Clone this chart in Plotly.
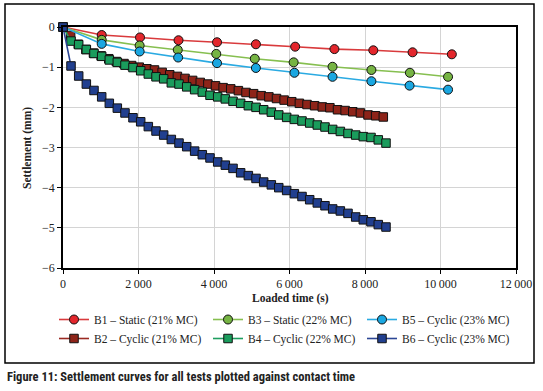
import plotly.graph_objects as go

# ---------------- data ----------------
t_b1 = [0, 1025, 2040, 3060, 4080, 5110, 6150, 7190, 8220, 9260, 10300]
s_b1 = [0, -0.20, -0.26, -0.33, -0.38, -0.43, -0.49, -0.55, -0.58, -0.63, -0.68]

t_b3 = [0, 1025, 2030, 3040, 4060, 5080, 6110, 7140, 8170, 9190, 10200]
s_b3 = [0, -0.32, -0.46, -0.57, -0.67, -0.79, -0.88, -0.99, -1.07, -1.14, -1.24]

t_b5 = [0, 1025, 2030, 3050, 4080, 5110, 6130, 7140, 8170, 9180, 10200]
s_b5 = [0, -0.42, -0.61, -0.76, -0.90, -1.02, -1.14, -1.24, -1.35, -1.46, -1.56]

t_b2 = [0, 202, 404, 606, 808, 1010, 1212, 1414, 1616, 1818, 2020, 2222, 2424,
        2626, 2828, 3030, 3232, 3434, 3636, 3838, 4040, 4242, 4444, 4646, 4848,
        5050, 5252, 5454, 5656, 5858, 6060, 6262, 6464, 6666, 6868, 7070, 7272,
        7474, 7676, 7878, 8080, 8282, 8485]
s_b2 = [0, -0.21, -0.43, -0.56, -0.65, -0.72, -0.79, -0.86, -0.91, -0.96, -1.00,
        -1.04, -1.07, -1.13, -1.19, -1.23, -1.28, -1.33, -1.38, -1.42, -1.465,
        -1.51, -1.54, -1.585, -1.63, -1.66, -1.71, -1.74, -1.78, -1.82, -1.86,
        -1.90, -1.93, -1.96, -1.99, -2.01, -2.06, -2.08, -2.11, -2.14, -2.19,
        -2.21, -2.24]

t_b4 = [0, 212, 416, 618, 821, 1025, 1227, 1439, 1642, 1854, 2058, 2260, 2464,
        2667, 2870, 3073, 3277, 3488, 3690, 3894, 4098, 4300, 4504, 4706, 4910,
        5113, 5316, 5519, 5716, 5925, 6128, 6331, 6535, 6737, 6940, 7144, 7347,
        7550, 7754, 7955, 8159, 8352, 8556]
s_b4 = [0, -0.35, -0.44, -0.56, -0.66, -0.73, -0.82, -0.88, -0.95, -1.01, -1.09,
        -1.17, -1.24, -1.29, -1.39, -1.42, -1.49, -1.56, -1.62, -1.70, -1.74,
        -1.79, -1.85, -1.90, -1.96, -2.00, -2.06, -2.12, -2.19, -2.25, -2.30,
        -2.34, -2.39, -2.44, -2.49, -2.55, -2.60, -2.65, -2.69, -2.73, -2.75,
        -2.81, -2.89]

t_b6 = [0, 212, 416, 618, 821, 1025, 1227, 1439, 1642, 1854, 2058, 2260, 2464,
        2667, 2870, 3073, 3277, 3488, 3690, 3894, 4098, 4300, 4504, 4706, 4910,
        5113, 5316, 5519, 5716, 5925, 6128, 6331, 6535, 6737, 6940, 7144, 7347,
        7550, 7754, 7955, 8159, 8352, 8556]
s_b6 = [0, -0.97, -1.22, -1.42, -1.58, -1.74, -1.90, -2.02, -2.14, -2.26, -2.36,
        -2.48, -2.59, -2.69, -2.80, -2.89, -2.98, -3.09, -3.18, -3.26, -3.36,
        -3.44, -3.52, -3.63, -3.70, -3.77, -3.86, -3.93, -4.00, -4.07, -4.15,
        -4.22, -4.30, -4.38, -4.45, -4.53, -4.58, -4.64, -4.73, -4.80, -4.85,
        -4.92, -4.98]

x_ticks = [0, 2000, 4000, 6000, 8000, 10000, 12000]
x_ticklabels = ["0", "2\u2009000", "4\u2009000", "6\u2009000", "8\u2009000",
                "10\u2009000", "12\u2009000"]
y_ticks = [0, -1, -2, -3, -4, -5, -6]
y_ticklabels = ["0", "\u22121", "\u22122", "\u22123", "\u22124", "\u22125", "\u22126"]

series = [
    ("B1 \u2013 Static (21% MC)", t_b1, s_b1, "circle", "#e3262c", "#d93a3c", 1),
    ("B2 \u2013 Cyclic (21% MC)", t_b2, s_b2, "square", "#8e2419", "#9a2a22", 4),
    ("B3 \u2013 Static (22% MC)", t_b3, s_b3, "circle", "#76b443", "#86bf50", 2),
    ("B4 \u2013 Cyclic (22% MC)", t_b4, s_b4, "square", "#1a9c5c", "#1e9e60", 5),
    ("B5 \u2013 Cyclic (23% MC)", t_b5, s_b5, "circle", "#1aa7e1", "#2aaae2", 3),
    ("B6 \u2013 Cyclic (23% MC)", t_b6, s_b6, "square", "#213f8f", "#2c4695", 6),
]

SERIF = "Liberation Serif, Times New Roman, serif"

fig = go.Figure()
for name, xs, ys, sym, fill, line, rank in series:
    fig.add_trace(go.Scatter(
        x=xs, y=ys, name=name, mode="lines+markers",
        line=dict(color=line, width=1.6),
        marker=dict(symbol=sym, size=9 if sym == "circle" else 8.5,
                    color=fill, line=dict(color="#111111", width=1)),
        cliponaxis=False, legendrank=rank,
    ))

L, R, T, B = 63, 27, 27, 123
W, H = 543, 391
pw, ph = W - L - R, H - T - B

def px(xp):
    return (xp - L) / pw

def py(yp):
    return (H - B - yp) / ph

fig.update_layout(
    width=W, height=H,
    margin=dict(l=L, r=R, t=T, b=B, pad=0, autoexpand=False),
    paper_bgcolor="white", plot_bgcolor="white",
    font=dict(family=SERIF, size=12, color="#222222"),
    showlegend=True,
    legend=dict(
        orientation="h", x=px(54), y=py(305), xanchor="left", yanchor="top",
        entrywidth=109, entrywidthmode="pixels",
        font=dict(family=SERIF, size=11.5, color="#222222"),
        bgcolor="rgba(0,0,0,0)", tracegroupgap=0, itemwidth=30,
    ),
    xaxis=dict(
        range=[0, 12000], tickvals=x_ticks, ticktext=x_ticklabels,
        showgrid=True, gridcolor="#d4d4d4", gridwidth=1,
        showline=True, linecolor="black", linewidth=1.5, mirror=True,
        ticks="outside", ticklen=4, tickcolor="black", tickwidth=1,
        zeroline=False, tickfont=dict(family=SERIF, size=12, color="#222222"),
    ),
    yaxis=dict(
        range=[-6, 0], tickvals=y_ticks, ticktext=y_ticklabels,
        showgrid=True, gridcolor="#d4d4d4", gridwidth=1,
        showline=True, linecolor="black", linewidth=1.5, mirror=True,
        ticks="outside", ticklen=4, tickcolor="black", tickwidth=1,
        zeroline=False, tickfont=dict(family=SERIF, size=12, color="#222222"),
    ),
    shapes=[dict(type="rect", xref="paper", yref="paper",
                 x0=px(5), x1=px(534), y0=py(363), y1=py(4),
                 line=dict(color="black", width=1.5), layer="below")],
    annotations=[
        dict(text="<b>Loaded time (s)</b>", xref="paper", yref="paper",
             x=px(290), y=py(298), xanchor="center", yanchor="middle",
             showarrow=False, font=dict(family=SERIF, size=11.5, color="#222222")),
        dict(text="<b>Settlement (mm)</b>", xref="paper", yref="paper",
             x=px(27), y=py(148), xanchor="center", yanchor="middle",
             textangle=-90, showarrow=False,
             font=dict(family=SERIF, size=11.5, color="#222222")),
        dict(text="<b>Figure 11: Settlement curves for all tests plotted against contact time</b>",
             xref="paper", yref="paper", x=px(5), y=py(376),
             xanchor="left", yanchor="middle", showarrow=False,
             font=dict(family="Liberation Sans Narrow, Arial Narrow, Roboto Condensed, Liberation Sans, sans-serif",
                       size=12.5, color="#222222")),
    ],
)

fig.write_html("out.html",
               config={"displayModeBar": False},
               post_script="document.body.style.margin='0';document.body.style.padding='0';")
